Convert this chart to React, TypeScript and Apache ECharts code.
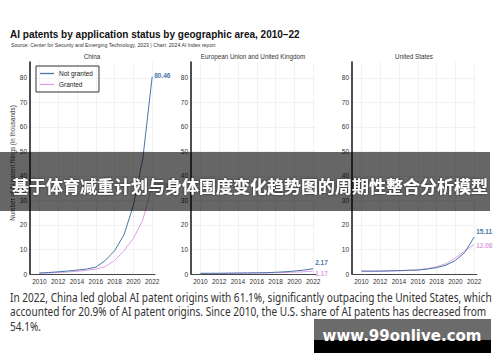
import React, { useEffect, useRef } from "react";
import * as echarts from "echarts";

const years = [2010, 2011, 2012, 2013, 2014, 2015, 2016, 2017, 2018, 2019, 2020, 2021, 2022];
const panelTitles = ["China", "European Union and United Kingdom", "United States"];
const seriesNames = ["Not granted", "Granted"];

const chinaNotGranted = [0.4, 0.6, 0.9, 1.2, 1.6, 2.0, 2.8, 5.5, 9.5, 16, 28, 47, 80.46];
const chinaGranted = [0.3, 0.4, 0.6, 0.8, 1.1, 1.5, 2.0, 3.0, 5.5, 9.5, 14.5, 22, 36];
const euNotGranted = [0.3, 0.3, 0.3, 0.35, 0.4, 0.45, 0.5, 0.55, 0.7, 0.9, 1.2, 1.6, 2.17];
const euGranted = [0.2, 0.2, 0.2, 0.25, 0.3, 0.3, 0.35, 0.4, 0.5, 0.6, 0.75, 0.9, 1.17];
const usNotGranted = [1.2, 1.2, 1.2, 1.3, 1.4, 1.5, 1.6, 2.0, 2.6, 3.6, 5.5, 8.8, 15.11];
const usGranted = [1.0, 1.0, 1.1, 1.2, 1.3, 1.5, 1.7, 2.2, 3.0, 4.2, 6.5, 9.5, 12.08];

const xTickValues = [2010, 2012, 2014, 2016, 2018, 2020, 2022];
const yTickValues = [0, 10, 20, 30, 40, 50, 60, 70, 80];

const titleText = "AI patents by application status by geographic area, 2010–22";
const sourceText = "Source: Center for Security and Emerging Technology, 2023 | Chart: 2024 AI Index report";
const yAxisTitle = "Number of AI patent filings (in thousands)";
const paragraphLines = [
  "In 2022, China led global AI patent origins with 61.1%, significantly outpacing the United States, which",
  "accounted for 20.9% of AI patent origins. Since 2010, the U.S. share of AI patents has decreased from",
  "54.1%.",
];
const bannerText = "基于体育减重计划与身体围度变化趋势图的周期性整合分析模型";
const watermarkText = "www.99onlive.com";

const BLUE = "#4a76a8";
const PINK = "#dca3e3";

export default function App() {
  const ref = useRef<HTMLDivElement>(null);

  useEffect(() => {
    if (!ref.current) return;
    const chart = echarts.init(ref.current, undefined, { renderer: "svg" });

    const panels = [
      { ng: chinaNotGranted, g: chinaGranted, ngOff: [0, -1], gOff: [0, 0] },
      { ng: euNotGranted, g: euGranted, ngOff: [0, -6], gOff: [0, 2] },
      { ng: usNotGranted, g: usGranted, ngOff: [0, -5], gOff: [0, 1] },
    ];

    const grids = panels.map((_, i) => ({
      left: 30 + 161 * i,
      top: 62,
      width: 125,
      height: 212,
    }));

    const xAxes = panels.map((_, i) => ({
      type: "value",
      gridIndex: i,
      min: 2009,
      max: 2022.3,
      axisLine: { show: true, lineStyle: { color: "#444", width: 1 } },
      axisTick: { show: false, customValues: xTickValues },
      axisLabel: {
        customValues: xTickValues,
        fontSize: 6.5,
        color: "#333",
        margin: 4,
        fontFamily: "Liberation Sans",
        formatter: (v: number) => String(v),
      },
      splitLine: { show: true, lineStyle: { color: "#efefef", width: 0.8 } },
    }));

    const yAxes = panels.map((_, i) => ({
      type: "value",
      gridIndex: i,
      min: 0,
      max: 86.5,
      axisLine: { show: true, lineStyle: { color: "#222", width: 1.6 } },
      axisTick: { show: false, customValues: yTickValues },
      axisLabel: {
        customValues: yTickValues,
        fontSize: 6.5,
        color: "#333",
        margin: 3,
        fontFamily: "Liberation Sans",
      },
      splitLine: { show: true, lineStyle: { color: "#efefef", width: 0.8 } },
    }));

    const mk = (name: string, vals: number[], i: number, color: string, off: number[]) => ({
      name,
      type: "line",
      xAxisIndex: i,
      yAxisIndex: i,
      symbol: "none",
      color,
      lineStyle: { color, width: 1 },
      endLabel: {
        show: true,
        distance: 2,
        offset: off,
        color,
        fontSize: 6.5,
        fontWeight: 600,
        fontFamily: "Liberation Sans",
        formatter: () => vals[vals.length - 1].toFixed(2),
      },
      data: vals.map((v, k) => [years[k], v]),
    });

    const series: any[] = [];
    panels.forEach((p, i) => {
      series.push(mk(seriesNames[1], p.g, i, PINK, p.gOff));
      series.push(mk(seriesNames[0], p.ng, i, BLUE, p.ngOff));
    });

    const graphics: any[] = [
      {
        type: "text",
        x: 10,
        y: 34,
        style: {
          text: titleText,
          font: 'bold 10px "Liberation Sans"',
          fill: "#111",
          verticalAlign: "middle",
        },
      },
      {
        type: "text",
        x: 11,
        y: 45,
        style: {
          text: sourceText,
          font: '5.2px "Liberation Sans"',
          fill: "#333",
          verticalAlign: "middle",
        },
      },
      ...panelTitles.map((t, i) => ({
        type: "text",
        x: 30 + 161 * i + 62,
        y: 56,
        style: {
          text: t,
          font: '6.3px "Liberation Sans"',
          fill: "#333",
          align: "center",
          verticalAlign: "middle",
        },
      })),
      {
        type: "text",
        x: 12,
        y: 163,
        rotation: Math.PI / 2,
        style: {
          text: yAxisTitle,
          font: '6.3px "Liberation Sans"',
          fill: "#333",
          align: "center",
          verticalAlign: "middle",
        },
      },
      ...paragraphLines.map((t, i) => ({
        type: "text",
        x: 10,
        y: 297 + 14.5 * i,
        scaleX: 0.84,
        style: {
          text: t,
          font: '12px "Noto Sans"',
          fill: "#333",
          verticalAlign: "middle",
        },
      })),
      {
        type: "rect",
        shape: { x: 0, y: 152, width: 490, height: 59 },
        style: { fill: "rgba(0,0,0,0.6)" },
        z: 100,
      },
      {
        type: "text",
        x: 250,
        y: 185,
        z: 101,
        style: {
          text: bannerText,
          font: 'bold 17px "Noto Sans CJK SC"',
          fill: "#fff",
          align: "center",
          verticalAlign: "middle",
          textShadowColor: "rgba(0,0,0,0.6)",
          textShadowBlur: 2,
        },
      },
      {
        type: "rect",
        shape: { x: 314, y: 319, width: 177, height: 21 },
        style: { fill: "#6b6b6b" },
        z: 100,
      },
      {
        type: "rect",
        shape: { x: 314, y: 340, width: 177, height: 13 },
        style: { fill: "#000" },
        z: 100,
      },
      {
        type: "text",
        x: 402,
        y: 336,
        z: 101,
        style: {
          text: watermarkText,
          font: 'bold 15px "DejaVu Sans"',
          fill: "#fff",
          align: "center",
          verticalAlign: "middle",
        },
      },
    ];

    chart.setOption({
      animation: false,
      backgroundColor: "#fff",
      grid: grids,
      xAxis: xAxes,
      yAxis: yAxes,
      legend: {
        data: seriesNames,
        orient: "vertical",
        left: 36,
        top: 66,
        borderColor: "#333",
        borderWidth: 1,
        borderRadius: 0,
        padding: [4, 6, 4, 4],
        itemGap: 4,
        itemWidth: 14,
        itemHeight: 1.3,
        icon: "rect",
        textStyle: { fontSize: 6.5, color: "#222", fontFamily: "Liberation Sans" },
      },
      series,
      graphic: graphics,
    });

    return () => chart.dispose();
  }, []);

  return (
    <div
      ref={ref}
      style={{ position: "fixed", left: 0, top: 0, width: 500, height: 362 }}
    />
  );
}
